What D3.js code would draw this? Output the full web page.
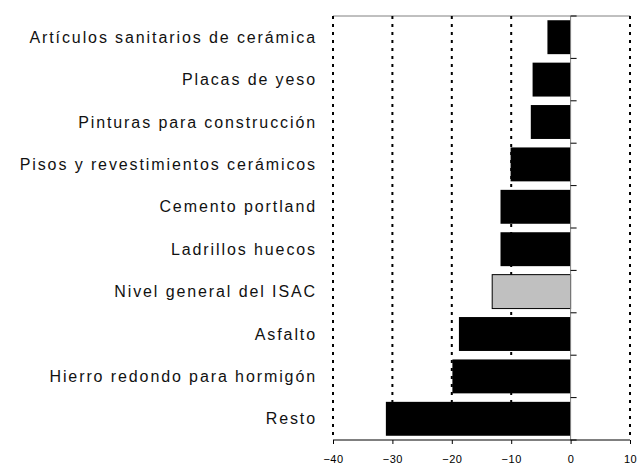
<!DOCTYPE html>
<html lang="es">
<head>
<meta charset="UTF-8">
<title>ISAC</title>
<style>
    body { margin: 0; background: #fff; }
    svg text { font-family: "Liberation Sans", Arial, sans-serif; fill: #000; }
</style>
</head>
<body>
<div id="chart"></div>
<script src="https://cdn.jsdelivr.net/npm/d3@7"></script>
<script>
// categories top to bottom
var categories = [
    "Artículos sanitarios de cerámica",
    "Placas de yeso",
    "Pinturas para construcción",
    "Pisos y revestimientos cerámicos",
    "Cemento portland",
    "Ladrillos huecos",
    "Nivel general del ISAC",
    "Asfalto",
    "Hierro redondo para hormigón",
    "Resto"
];
var values = [-3.9, -6.4, -6.7, -10.1, -11.8, -11.8, -13.2, -18.8, -19.9, -31.1];
var highlight = "Nivel general del ISAC";
var xTicks = [-40, -30, -20, -10, 0, 10];

var width = 642, height = 464;
var margin = { top: 16, right: 12, bottom: 24, left: 333 };

var svg = d3.select("#chart").append("svg")
    .attr("width", width)
    .attr("height", height);

var x = d3.scaleLinear().domain([-40, 10]).range([margin.left, width - margin.right]);
var y = d3.scaleBand().domain(categories).range([margin.top, height - margin.bottom]).paddingInner(0.2).paddingOuter(0.1);

// top border
svg.append("line")
    .attr("x1", x(-40)).attr("x2", x(10))
    .attr("y1", margin.top).attr("y2", margin.top)
    .attr("stroke", "#808080").attr("stroke-width", 1);

// dotted gridlines
svg.append("g").selectAll("line")
    .data(xTicks.filter(function (d) { return d !== 0; }))
    .enter().append("line")
    .attr("x1", function (d) { return x(d); })
    .attr("x2", function (d) { return x(d); })
    .attr("y1", margin.top)
    .attr("y2", height - margin.bottom)
    .attr("stroke", "#000")
    .attr("stroke-width", 2)
    .attr("stroke-dasharray", "3,5");

// bars
svg.append("g").selectAll("rect")
    .data(categories)
    .enter().append("rect")
    .attr("x", function (d, i) { return x(values[i]); })
    .attr("y", function (d) { return y(d); })
    .attr("width", function (d, i) { return x(0) - x(values[i]); })
    .attr("height", y.bandwidth())
    .attr("fill", function (d) { return d === highlight ? "#c0c0c0" : "#000"; })
    .attr("stroke", function (d) { return d === highlight ? "#000" : "none"; })
    .attr("stroke-width", 1);

// zero axis with ticks at band boundaries
var yg = svg.append("g")
    .attr("transform", "translate(" + x(0) + ",0)");
yg.append("line")
    .attr("x1", 0).attr("x2", 0)
    .attr("y1", margin.top).attr("y2", height - margin.bottom)
    .attr("stroke", "#808080");
var bounds = categories.map(function (d) { return y(d) - y.step() * y.paddingInner() / 2; });
bounds.push(height - margin.bottom);
yg.selectAll("line.tick")
    .data(bounds)
    .enter().append("line")
    .attr("class", "tick")
    .attr("x1", 0).attr("x2", 6)
    .attr("y1", function (d) { return d; })
    .attr("y2", function (d) { return d; })
    .attr("stroke", "#000");

// category labels
svg.append("g").selectAll("text")
    .data(categories)
    .enter().append("text")
    .attr("x", 317)
    .attr("y", function (d) { return y(d) + y.bandwidth() / 2; })
    .attr("dy", "0.35em")
    .attr("text-anchor", "end")
    .style("font-size", "16px")
    .style("letter-spacing", "1.9px")
    .style("fill", "#111")
    .text(function (d) { return d; });

// x axis
var xAxis = d3.axisBottom(x).tickValues(xTicks).tickSize(4).tickPadding(11);
var xg = svg.append("g")
    .attr("transform", "translate(0," + (height - margin.bottom) + ")")
    .call(xAxis);
xg.select(".domain").attr("stroke", "#000").attr("d", "M" + x(-40) + ",0H" + x(10));
xg.selectAll("text").style("font-size", "11px").style("letter-spacing", "0.5px").attr("font-family", null);
</script>
</body>
</html>
